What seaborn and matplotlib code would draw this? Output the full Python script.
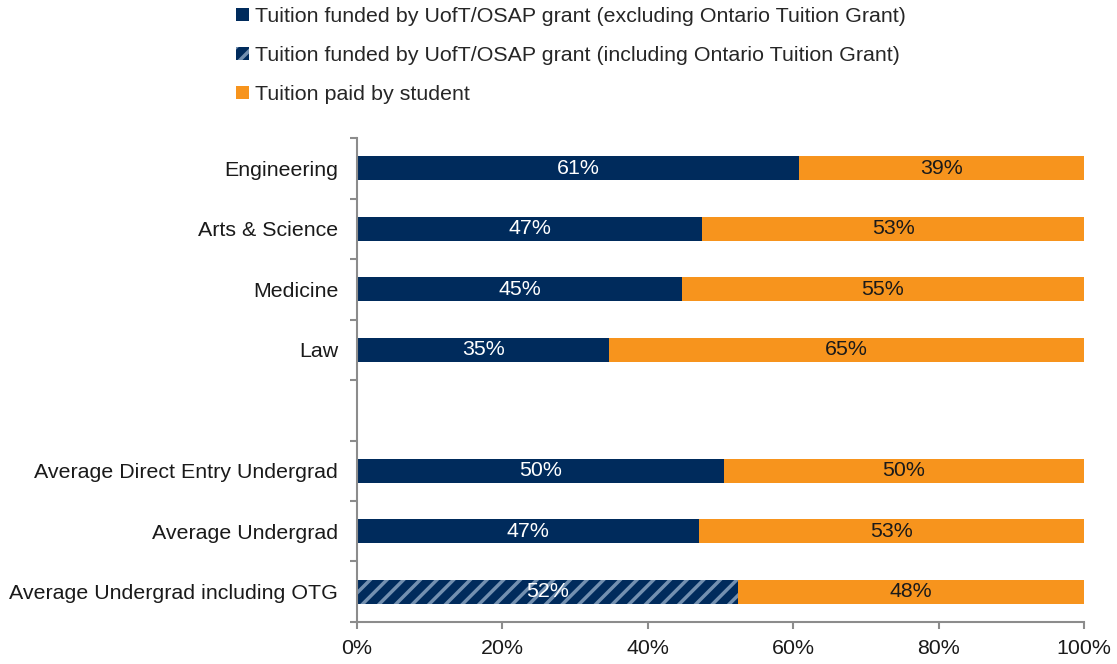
import matplotlib
matplotlib.use("Agg")
import matplotlib.pyplot as plt
from matplotlib.patches import Patch
from matplotlib.ticker import FixedLocator, PercentFormatter
import pandas as pd
import seaborn as sns

# data
categories = ["Engineering", "Arts & Science", "Medicine", "Law", "",
              "Average Direct Entry Undergrad", "Average Undergrad",
              "Average Undergrad including OTG"]
grant_share = [60.8, 47.5, 44.7, 34.7, None, 50.5, 47.0, 52.4]
grant_labels = ["61%", "47%", "45%", "35%", "", "50%", "47%", "52%"]
student_labels = ["39%", "53%", "55%", "65%", "", "50%", "53%", "48%"]
legend_labels = ["Tuition funded by UofT/OSAP grant (excluding Ontario Tuition Grant)",
                 "Tuition funded by UofT/OSAP grant (including Ontario Tuition Grant)",
                 "Tuition paid by student"]

navy = "#002b5c"
orange = "#f7941d"
stripe = "#7390b0"
fs = 15.4

sns.set_style("white")
plt.rcParams["font.family"] = ["Liberation Sans", "DejaVu Sans"]
plt.rcParams["hatch.linewidth"] = 2.5

df = pd.DataFrame({"cat": categories, "grant": grant_share})
df["total"] = df["grant"].apply(lambda v: None if pd.isna(v) else 100.0)

fig = plt.figure(figsize=(11.17, 6.64), dpi=100)
ax = fig.add_axes([0.3196, 0.0633, 0.6508, 0.7287])

sns.barplot(data=df, x="total", y="cat", order=categories, color=orange,
            width=0.4, ax=ax, saturation=1, linewidth=0)
n_orange = len(ax.patches)
sns.barplot(data=df, x="grant", y="cat", order=categories, color=navy,
            width=0.4, ax=ax, saturation=1, linewidth=0)

# stripes on the OTG bar
for p in ax.patches[n_orange:]:
    cy = p.get_y() + p.get_height() / 2
    if abs(cy - 7) < 0.01:
        p.set_hatch("//")
        p.set_edgecolor(stripe)
        p.set_linewidth(0)

for i, (g, gl, sl) in enumerate(zip(grant_share, grant_labels, student_labels)):
    if g is None:
        continue
    ax.text(g / 2, i, gl, ha="center", va="center", color="white", fontsize=fs)
    ax.text(g + (100 - g) / 2, i, sl, ha="center", va="center", color="#1a1a1a", fontsize=fs)

ax.set_xlim(0, 100)
ax.set_ylim(7.5, -0.5)
ax.set_xlabel("")
ax.set_ylabel("")
ax.xaxis.set_major_locator(FixedLocator([0, 20, 40, 60, 80, 100]))
ax.xaxis.set_major_formatter(PercentFormatter(decimals=0))
ax.yaxis.set_minor_locator(FixedLocator([i - 0.5 for i in range(9)]))

for s in ["top", "right"]:
    ax.spines[s].set_visible(False)
for s in ["left", "bottom"]:
    ax.spines[s].set_color("#8c8c8c")
    ax.spines[s].set_linewidth(1.5)

ax.tick_params(axis="x", direction="out", length=5, width=1.5, color="#8c8c8c",
               labelsize=fs, labelcolor="#1a1a1a", pad=7, bottom=True)
ax.tick_params(axis="y", which="major", length=0, labelsize=fs,
               labelcolor="#1a1a1a", pad=13.5)
ax.tick_params(axis="y", which="minor", direction="out", length=5, width=1.5,
               color="#8c8c8c", left=True)

handles = [Patch(facecolor=navy, edgecolor="none"),
           Patch(facecolor=navy, edgecolor=stripe, hatch="//", linewidth=0),
           Patch(facecolor=orange, edgecolor="none")]
fig.legend(handles, legend_labels, loc="upper left", bbox_to_anchor=(0.204, 1.002),
           frameon=False, fontsize=fs, handlelength=0.6, handleheight=0.6,
           handletextpad=0.25, labelspacing=0.93, borderaxespad=0)

fig.savefig("out.png", dpi=100)
